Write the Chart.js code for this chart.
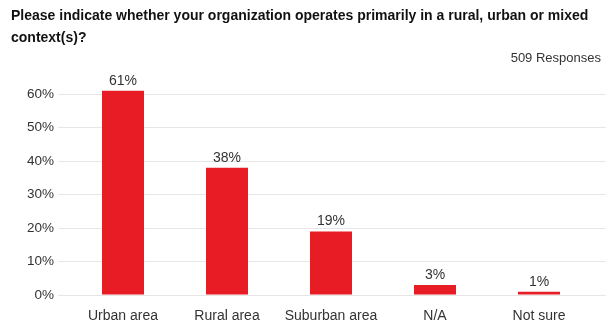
<!DOCTYPE html>
<html>
<head>
<meta charset="utf-8">
<script src="https://cdn.jsdelivr.net/npm/chart.js@4/dist/chart.umd.min.js"></script>
<style>
  html, body { margin: 0; padding: 0; background: #fff; }
  canvas { display: block; }
</style>
</head>
<body>
<canvas id="grafica" width="613" height="322"></canvas>
<script>
const categorias = ['Urban area', 'Rural area', 'Suburban area', 'N/A', 'Not sure'];
const porcentajes = [61, 38, 19, 3, 1];
const marcasY = [0, 10, 20, 30, 40, 50, 60];
const titulo = ['Please indicate whether your organization operates primarily in a rural, urban or mixed', 'context(s)?'];
const respuestas = '509 Responses';

const fuente = 'Liberation Sans, Arial, Helvetica, sans-serif';
const colorTexto = '#333333';
const colorRejilla = '#e6e6e6';

// etiqueta de porcentaje encima de cada barra
const etiquetasBarras = {
    id: 'etiquetasBarras',
    afterDatasetsDraw(chart) {
        const ctx = chart.ctx;
        const meta = chart.getDatasetMeta(0);
        ctx.save();
        ctx.font = '14px ' + fuente;
        ctx.fillStyle = colorTexto;
        ctx.textAlign = 'center';
        ctx.textBaseline = 'bottom';
        meta.data.forEach((barra, i) => {
            ctx.fillText(porcentajes[i] + '%', barra.x, barra.y - 3);
        });
        ctx.restore();
    }
};

const ctx = document.getElementById('grafica').getContext('2d');
new Chart(ctx, {
    type: 'bar',
    data: {
        labels: categorias,
        datasets: [{
            data: porcentajes,
            backgroundColor: '#e81c24',
            borderWidth: 0,
            categoryPercentage: 1,
            barPercentage: 0.404
        }]
    },
    options: {
        responsive: false,
        animation: false,
        layout: { padding: { left: 11, right: 12, top: 0, bottom: 0 } },
        plugins: {
            legend: { display: false },
            tooltip: { enabled: false },
            title: {
                display: true,
                text: titulo,
                align: 'start',
                color: '#111111',
                font: { family: fuente, size: 14, weight: 'bold', lineHeight: 1.6 },
                padding: { top: 5, bottom: 0 }
            },
            subtitle: {
                display: true,
                text: respuestas,
                align: 'end',
                color: colorTexto,
                font: { family: fuente, size: 13, lineHeight: 1.2 },
                padding: { top: 1, bottom: 11 }
            }
        },
        scales: {
            x: {
                grid: { display: false },
                border: { display: false },
                ticks: { color: colorTexto, font: { family: fuente, size: 14 }, padding: 5 },
                afterFit(escala) { escala.height = 27; }
            },
            y: {
                min: 0,
                max: 65,
                afterBuildTicks(escala) {
                    escala.ticks = marcasY.map(v => ({ value: v }));
                },
                grid: { color: colorRejilla, tickColor: colorRejilla, tickLength: 13 },
                border: { display: false },
                ticks: {
                    color: colorTexto,
                    font: { family: fuente, size: 13.5 },
                    padding: 4,
                    callback: v => v + '%'
                },
                afterFit(escala) { escala.width = 60; }
            },
            // eje derecho sin etiquetas: solo prolonga la rejilla hacia la derecha
            yDerecha: {
                position: 'right',
                min: 0,
                max: 65,
                afterBuildTicks(escala) {
                    escala.ticks = marcasY.map(v => ({ value: v }));
                },
                grid: { drawOnChartArea: false, tickColor: colorRejilla, tickLength: 15 },
                border: { display: false },
                ticks: { display: false },
                afterFit(escala) { escala.width = 10; }
            }
        }
    },
    plugins: [etiquetasBarras]
});
</script>
</body>
</html>
